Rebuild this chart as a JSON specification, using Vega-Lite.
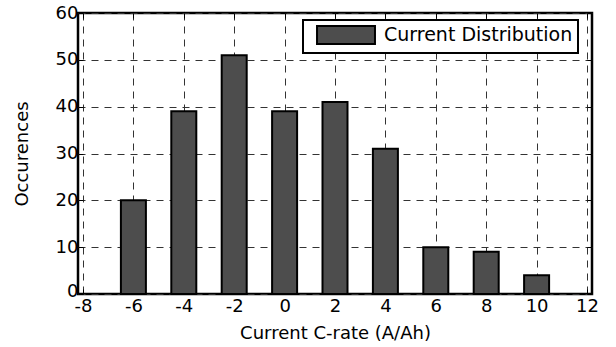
{
  "$schema": "https://vega.github.io/schema/vega-lite/v6.json",
  "width": 514,
  "height": 281,
  "autosize": "none",
  "padding": {"left": 78, "top": 13, "right": 24, "bottom": 53},
  "background": "white",
  "config": {
    "font": "DejaVu Sans",
    "view": {"stroke": "black", "strokeWidth": 2.5},
    "axis": {
      "domain": false,
      "labelFont": "DejaVu Sans",
      "labelFontSize": 18,
      "labelColor": "black",
      "titleFont": "DejaVu Sans",
      "titleFontSize": 18,
      "titleFontWeight": "normal",
      "titleColor": "black",
      "tickColor": "black",
      "tickWidth": 1,
      "tickSize": -5,
      "gridColor": "#333333",
      "gridOpacity": 1,
      "gridWidth": 1,
      "gridDash": [7, 6]
    },
    "legend": {
      "orient": "none",
      "legendX": 225,
      "legendY": 7,
      "strokeColor": "black",
      "strokeWidth": 2,
      "fillColor": "white",
      "padding": 5,
      "labelFont": "DejaVu Sans",
      "labelFontSize": 19,
      "labelColor": "black",
      "labelOffset": 28,
      "labelLimit": 400,
      "symbolType": "M-3.22,-1H3.22V1H-3.22Z",
      "symbolSize": 324,
      "symbolOffset": 28,
      "symbolStrokeColor": "black",
      "symbolStrokeWidth": 2,
      "symbolOpacity": 1
    }
  },
  "data": {
    "values": [
      {"crate": -6, "occurences": 20},
      {"crate": -4, "occurences": 39},
      {"crate": -2, "occurences": 51},
      {"crate": 0, "occurences": 39},
      {"crate": 2, "occurences": 41},
      {"crate": 4, "occurences": 31},
      {"crate": 6, "occurences": 10},
      {"crate": 8, "occurences": 9},
      {"crate": 10, "occurences": 4}
    ]
  },
  "layer": [
    {
      "mark": {"type": "bar", "width": 25, "stroke": "black", "strokeWidth": 2, "opacity": 1},
      "encoding": {
        "x": {
          "field": "crate",
          "type": "quantitative",
          "scale": {"domain": [-8, 12], "nice": false, "zero": false},
          "axis": {
            "orient": "bottom",
            "title": "Current C-rate (A/Ah)",
            "values": [-8, -6, -4, -2, 0, 2, 4, 6, 8, 10, 12],
            "labelExpr": "'' + datum.value",
            "grid": true,
            "labelPadding": 8,
            "titlePadding": 9,
            "labelFlush": false
          }
        },
        "y": {
          "field": "occurences",
          "type": "quantitative",
          "scale": {"domain": [0, 60], "nice": false},
          "axis": {
            "orient": "left",
            "title": "Occurences",
            "values": [0, 10, 20, 30, 40, 50, 60],
            "grid": true,
            "labelPadding": 5,
            "labelOffset": {"condition": {"test": "datum.value === 0", "value": -3}, "value": 0},
            "titlePadding": 24,
            "labelFlush": false
          }
        },
        "color": {
          "datum": "Current Distribution",
          "scale": {"range": ["#4d4d4d"]},
          "legend": {"title": null}
        }
      }
    },
    {
      "mark": {"type": "point", "opacity": 0},
      "encoding": {
        "x": {
          "field": "crate",
          "type": "quantitative",
          "scale": {"domain": [-8, 12], "nice": false, "zero": false},
          "axis": {
            "orient": "top",
            "title": null,
            "labels": false,
            "grid": false,
            "values": [-8, -6, -4, -2, 0, 2, 4, 6, 8, 10, 12]
          }
        },
        "y": {
          "field": "occurences",
          "type": "quantitative",
          "scale": {"domain": [0, 60], "nice": false},
          "axis": {
            "orient": "right",
            "title": null,
            "labels": false,
            "grid": false,
            "values": [0, 10, 20, 30, 40, 50, 60]
          }
        }
      }
    }
  ],
  "resolve": {"axis": {"x": "independent", "y": "independent"}}
}
